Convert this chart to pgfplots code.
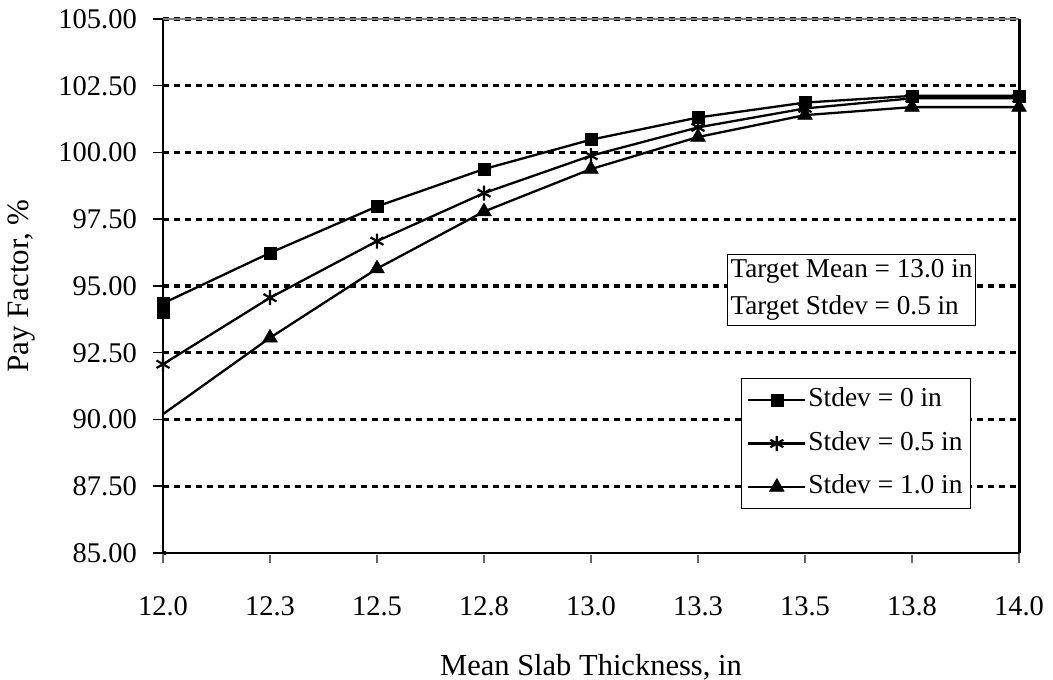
\documentclass[border=0pt]{standalone}
\usepackage{fontspec}
\setmainfont{Liberation Serif}
\usepackage{pgfplots}
\pgfplotsset{compat=1.18}
\begin{document}
\begin{tikzpicture}[font=\fontsize{28}{34}\selectfont]
\begin{axis}[
  at={(0,0)}, anchor=south west,
  scale only axis, width=856pt, height=534pt,
  xmin=12, xmax=14, ymin=85, ymax=105,
  axis x line*=bottom, axis y line*=left,
  axis line style={line width=2.5pt, -},
  xtick={12,12.25,12.5,12.75,13,13.25,13.5,13.75,14},
  xticklabels={12.0,12.3,12.5,12.8,13.0,13.3,13.5,13.8,14.0},
  ytick={85,87.5,...,105},
  tick label style={font=\fontsize{28.5}{34}\selectfont},
  yticklabel style={/pgf/number format/fixed, /pgf/number format/fixed zerofill, /pgf/number format/precision=2, /pgf/number format/assume math mode=true,
    anchor=east, inner sep=0pt, xshift=-16pt},
  tick align=outside, major tick length=10pt,
  x tick style={line width=1.5pt, gray!80!black},
  y tick style={line width=1.5pt, black},
  xticklabel style={anchor=base, inner sep=0pt, yshift=-52pt},
  ymajorgrids,
  grid style={line width=3.2pt, black, dash pattern=on 6pt off 5pt},
  every axis x label/.style={at={(axis description cs:0.5,-0.2285)}, anchor=base, font=\fontsize{30.5}{36}\selectfont},
  every axis y label/.style={at={(axis description cs:-0.1571,0.5)}, rotate=90, anchor=base, font=\fontsize{31}{36}\selectfont},
  xlabel={Mean Slab Thickness, in},
  ylabel={Pay Factor, \%},
  clip=false,
  legend style={at={(0.9439,0.3277)}, anchor=north east, draw=black, line width=1pt,
    inner xsep=6pt, inner ysep=7pt, row sep=14.5pt, font=\fontsize{27.4}{33}\selectfont,
    nodes={inner sep=2pt, text height=19pt, text depth=6pt, anchor=west}},
  legend cell align=left,
  legend image code/.code={\draw[mark repeat=2,mark phase=2] plot coordinates {(0pt,0pt) (28.5pt,0pt) (57pt,0pt)};},
]
\draw[gray, line width=1.2pt] (rel axis cs:0,1) -- (rel axis cs:1,1);
\addplot[black, line width=2.3pt, mark=square*, mark size=6pt, mark options={solid, line width=0.5pt}]
  coordinates {(12,94.35) (12.25,96.24) (12.5,97.98) (12.75,99.38) (13,100.48) (13.25,101.31) (13.5,101.87) (13.75,102.12) (14,102.12)};
\addlegendentry{Stdev = 0 in}
\addplot[black, line width=2.3pt, mark=asterisk, mark size=7.5pt, mark options={solid, line width=2.2pt}]
  coordinates {(12,92.07) (12.25,94.56) (12.5,96.68) (12.75,98.48) (13,99.88) (13.25,100.94) (13.5,101.65) (13.75,102.03) (14,102.03)};
\addlegendentry{Stdev = 0.5 in}
\addplot[black, line width=2.3pt, mark=triangle*, mark size=8.5pt, mark options={solid, line width=0.5pt}]
  coordinates {(12.25,93.06) (12.5,95.65) (12.75,97.79) (13,99.38) (13.25,100.58) (13.5,101.4) (13.75,101.7) (14,101.7)};
\addlegendentry{Stdev = 1.0 in}
\addplot[black, line width=2.3pt, no marks, forget plot] coordinates {(12,90.2) (12.25,93.06)};
\addplot[black, only marks, mark=square*, mark size=6pt, forget plot] coordinates {(12,94.0)};
\draw[black, line width=3pt] (rel axis cs:1,0) -- (rel axis cs:1,1);
\draw[white, line width=4.2pt] (rel axis cs:0.003,0) -- (rel axis cs:0.997,0);
\draw[black, line width=2.5pt] (rel axis cs:0,0) -- (rel axis cs:1,0);
\node[draw=black, line width=1pt, fill=white, align=left, inner xsep=3pt, inner ysep=5pt,
  font=\fontsize{27.2}{37}\selectfont] at (axis description cs:0.8043,0.4925)
  {Target Mean = 13.0 in\\Target Stdev = 0.5 in};
\end{axis}
\pgfresetboundingbox
\path (-163pt,-127pt) rectangle (890pt,553pt);
\end{tikzpicture}
\end{document}
